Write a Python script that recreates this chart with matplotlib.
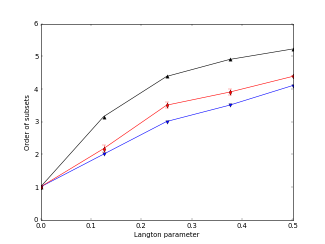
import matplotlib
matplotlib.use("Agg")
import matplotlib.pyplot as plt

plt.style.use('classic')

x = [0.0, 0.125, 0.25, 0.375, 0.5]
black_vals = [1.0, 3.15, 4.38, 4.9, 5.22]
red_vals = [1.0, 2.17, 3.5, 3.9, 4.38]
blue_vals = [1.0, 2.0, 3.0, 3.5, 4.1]
red_err = [0.0, 0.1, 0.1, 0.1, 0.0]

fig = plt.figure(figsize=(8, 6.03), dpi=40.625)
ax = fig.add_subplot(111)
ax.plot(x, black_vals, 'k-^')
ax.errorbar(x, red_vals, yerr=red_err, fmt='r-d')
ax.plot(x, blue_vals, 'b-v')
ax.set_xlim(0, 0.5)
ax.set_ylim(0, 6)
ax.set_xlabel('Langton parameter')
ax.set_ylabel('Order of subsets')
fig.savefig('out.png', dpi=40.625)
